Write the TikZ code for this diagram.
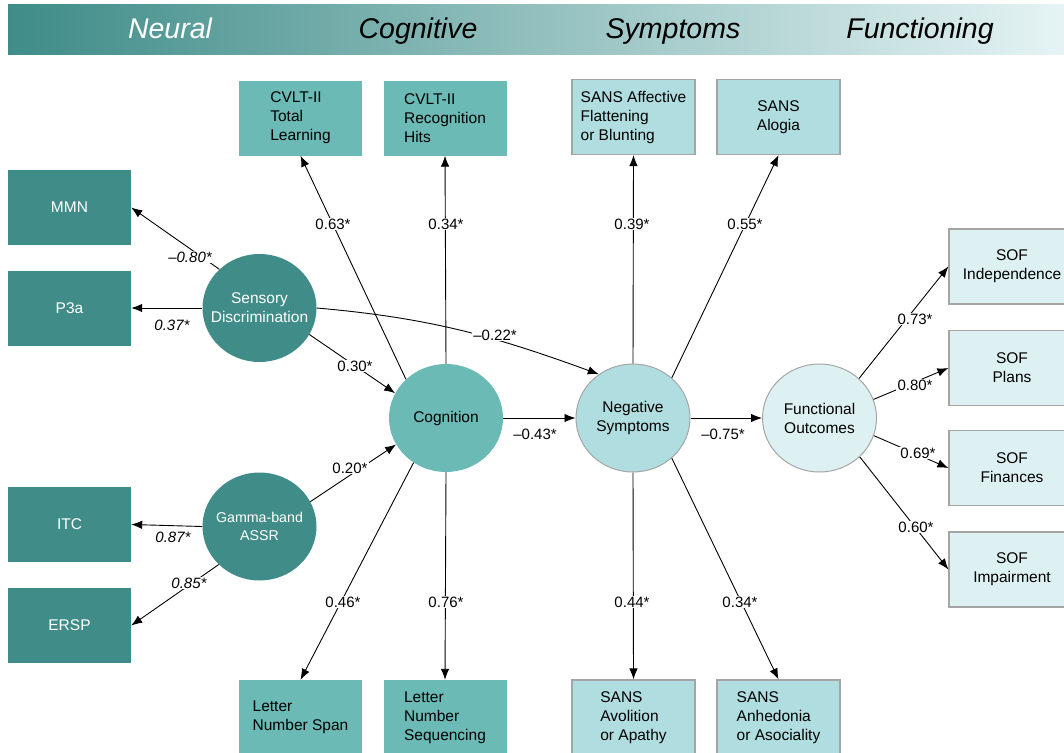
\documentclass[tikz,border=0pt]{standalone}
\usepackage{fontspec}
\setmainfont{Liberation Sans}
\usetikzlibrary{shapes.geometric,arrows.meta}
\definecolor{neural}{RGB}{63,140,136}
\definecolor{cogn}{RGB}{107,186,182}
\definecolor{sympt}{RGB}{176,222,224}
\definecolor{funct}{RGB}{222,241,242}
\definecolor{rim}{RGB}{165,165,165}
\definecolor{bandend}{RGB}{232,245,246}

\begin{document}
\begin{tikzpicture}
	 [x=1pt,y=-1pt,
	  measbox/.style={rectangle,minimum width=123pt,minimum height=75pt,inner sep=2pt,font=\fontsize{15.5}{19}\selectfont},
	  neubox/.style={measbox,fill=neural,text=white},
	  cogbox/.style={measbox,fill=cogn,align=left},
	  symbox/.style={measbox,fill=sympt,draw=rim,line width=1.2pt,align=left},
	  funbox/.style={measbox,fill=funct,draw=rim,line width=1.2pt,align=center,minimum width=126pt},
	  latent/.style={ellipse,minimum width=114pt,minimum height=108pt,inner sep=-12pt,align=center,font=\fontsize{15.5}{19}\selectfont},
	  neucirc/.style={latent,fill=neural,text=white},
	  cogcirc/.style={latent,fill=cogn},
	  symcirc/.style={latent,fill=sympt,draw=rim,line width=1pt},
	  funcirc/.style={latent,fill=funct,draw=rim,line width=1pt},
	  band/.style={font=\fontsize{28.5}{30}\selectfont\itshape,text height=20pt,text depth=6pt},
	  lbl/.style={fill=white,inner sep=1pt,font=\fontsize{15}{18}\selectfont},
	  arr/.style={-{Latex[length=11pt,width=8.5pt]},line width=0.9pt}]

  \useasboundingbox (0,0) rectangle (1064,752);

  \shade[left color=neural,right color=bandend] (8,5) rectangle (1080,55);
    \node[band,text=white] (tneu) at (170,32) {Neural};
    \node[band] (tcog) at (418,32) {Cognitive};
    \node[band] (tsym) at (673,32) {Symptoms};
    \node[band] (tfun) at (920,32) {Functioning};

  \node[neubox] (mmn) at (69.5,207.5) {MMN};
    \node[neubox] (p3a) at (69.5,308) {P3a};
    \node[neubox] (itc) at (69.5,524.5) {ITC};
    \node[neubox] (ersp) at (69.5,625.5) {ERSP};

  \node[neucirc] (sens) at (259.5,308) {Sensory\\Discrimination};
    \node[neucirc,font=\fontsize{14.2}{18}\selectfont] (gam) at (259.5,526.5) {Gamma-band\\ASSR};
    \node[cogcirc] (cog) at (446,418) {Cognition};
    \node[symcirc] (neg) at (633,418) {Negative\\Symptoms};
    \node[funcirc] (fun) at (819.5,418) {Functional\\Outcomes};

  \node[cogbox] (cvtl) at (300.5,118) {CVLT-II\\Total\\Learning};
    \node[cogbox] (cvrh) at (445,118) {CVLT-II\\Recognition\\Hits};
    \node[symbox] (saf) at (633.5,117) {SANS Affective\\Flattening\\or Blunting};
    \node[symbox,align=center] (alog) at (778.5,117) {SANS\\Alogia};

  \node[cogbox] (lns) at (300.5,717.5) {Letter\\Number Span};
    \node[cogbox] (lnsq) at (445,717.5) {Letter\\Number\\Sequencing};
    \node[symbox] (avol) at (633.5,717.5) {SANS\\Avolition\\or Apathy};
    \node[symbox] (anhe) at (778.5,717.5) {SANS\\Anhedonia\\or Asociality};

  \node[funbox] (sind) at (1012,266.5) {SOF\\Independence};
    \node[funbox] (spla) at (1012,368) {SOF\\Plans};
    \node[funbox] (sfin) at (1012,468) {SOF\\Finances};
    \node[funbox] (simp) at (1012,569.5) {SOF\\Impairment};

  \foreach \from/\to in {sens.136/mmn.east,sens.west/p3a.east,gam.west/itc.east,gam.223/ersp.east,
      sens.-28/cog.154,gam.26/cog.208,cog.136/cvtl.south,cog.north/cvrh.south,cog.234/lns.north,
      cog.south/lnsq.north,cog.east/neg.west,neg.north/saf.south,neg.46/alog.south,neg.south/avol.north,
      neg.314/anhe.north,neg.east/fun.west,fun.45/sind.west,fun.19/spla.west,fun.-18/sfin.west,fun.-44/simp.west}
    \draw[arr] (\from) -- (\to);

  \draw[arr] (sens.east) to[out=-5,in=160] (neg.128);

  \foreach \n/\x/\y/\t in {1/190/257/{\itshape \textendash0.80*},2/172/325/{\itshape 0.37*},
      3/173/537/{\itshape 0.87*},4/189/583/{\itshape 0.85*},5/355/366/0.30*,6/350/468/0.20*,
      7/495/335/{\textendash0.22*},8/333/224/0.63*,9/446/224/0.34*,10/343/602/0.46*,11/446/602/0.76*,
      12/535/434/{\textendash0.43*},13/632/224/0.39*,14/745/224/0.55*,15/632/602/0.44*,16/740/602/0.34*,
      17/723/434/{\textendash0.75*},18/915/319/0.73*,19/915/385/0.80*,20/918/453/0.69*,21/916/527/0.60*}
    \node[lbl] (l\n) at (\x,\y) {\t};

\end{tikzpicture}
\end{document}
